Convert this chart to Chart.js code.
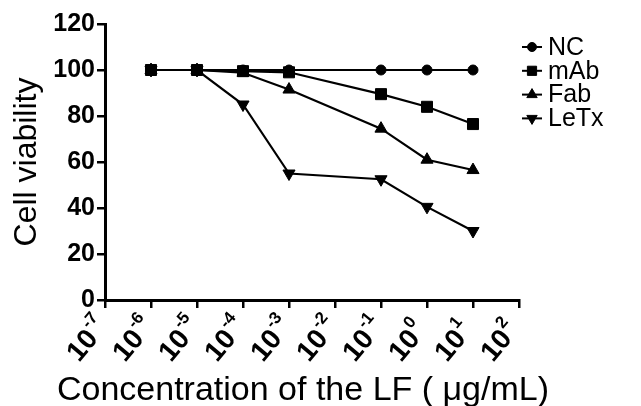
<!DOCTYPE html>
<html>
<head>
<meta charset="utf-8">
<script src="https://cdn.jsdelivr.net/npm/chart.js@4/dist/chart.umd.min.js"></script>
<style>
  html, body { margin: 0; padding: 0; background: #fff; }
  #wrap { width: 641px; height: 406px; position: relative; }
</style>
</head>
<body>
<div id="wrap"><canvas id="grafico"></canvas></div>
<script>
// concentration of LF (ug/mL)
const concentrations = [1e-6, 1e-5, 1e-4, 1e-3, 1e-1, 1e0, 1e1];
const ncValues   = [100, 100, 100, 100, 100, 100, 100];
const mAbValues  = [100, 100, 99.5, 99, 89.5, 84, 76.5];
const fabValues  = [100, 100, 98.8, 91.5, 74.5, 61, 56.5];
const letxValues = [100, 100, 85, 55, 52.5, 40.5, 30];

const seriesNames = ['NC', 'mAb', 'Fab', 'LeTx'];
const xTickValues = [1e-7, 1e-6, 1e-5, 1e-4, 1e-3, 1e-2, 1e-1, 1e0, 1e1, 1e2];
const xTickExponents = ['-7', '-6', '-5', '-4', '-3', '-2', '-1', '0', '1', '2'];
const yTickValues = [0, 20, 40, 60, 80, 100, 120];
const xTitle = 'Concentration of the LF ( \u03bcg/mL)';

const FONT = '"Liberation Sans", Arial, Helvetica, sans-serif';

const toPoints = vals => concentrations.map((c, i) => ({ x: c, y: vals[i] }));

const estilos = [
  { pointStyle: 'circle',   radius: 5,   rotation: 0 },
  { pointStyle: 'rect',     radius: 7.8, rotation: 0 },
  { pointStyle: 'triangle', radius: 7,   rotation: 0 },
  { pointStyle: 'triangle', radius: 7,   rotation: 180 }
];
const valores = [ncValues, mAbValues, fabValues, letxValues];
const orden = [2, 0, 1, 3];

const datasets = seriesNames.map((name, i) => ({
  label: name,
  data: toPoints(valores[i]),
  borderColor: '#000',
  backgroundColor: '#000',
  borderWidth: 2.2,
  pointStyle: estilos[i].pointStyle,
  pointRadius: estilos[i].radius,
  pointRotation: estilos[i].rotation,
  pointBorderWidth: 1,
  tension: 0,
  order: orden[i]
}));

// tick labels like 10^n drawn with a raised exponent, plus the x title
// (the built-in title gets squeezed to the axis width)
const xLabelsPlugin = {
  id: 'xLabels',
  afterDraw(chart) {
    const c = chart.ctx;
    const xs = chart.scales.x;
    c.save();
    c.fillStyle = '#000';
    xTickValues.forEach((v, i) => {
      const px = xs.getPixelForValue(v);
      c.save();
      c.translate(px - 22, 346);
      c.rotate(-50 * Math.PI / 180);
      c.font = 'bold 28px ' + FONT;
      c.textAlign = 'center';
      c.textBaseline = 'middle';
      c.fillText('10', 0, 0);
      const w = c.measureText('10').width;
      c.font = 'bold 17px ' + FONT;
      c.textAlign = 'left';
      c.fillText(xTickExponents[i], w / 2 + 1, -11);
      c.restore();
    });
    c.font = '34px ' + FONT;
    c.textAlign = 'center';
    c.textBaseline = 'alphabetic';
    c.fillText(xTitle, 303, 400);
    c.restore();
  }
};

// legend on the right: line + marker + name
const legendPlugin = {
  id: 'legendaLineas',
  afterDraw(chart) {
    const c = chart.ctx;
    const x0 = 522, x1 = 542, yTop = 47, paso = 23.8;
    const radios = [4.5, 6.5, 6, 6];
    c.save();
    seriesNames.forEach((name, i) => {
      const y = yTop + i * paso;
      c.strokeStyle = '#000';
      c.lineWidth = 2;
      c.beginPath();
      c.moveTo(x0, y);
      c.lineTo(x1, y);
      c.stroke();
      c.fillStyle = '#000';
      c.lineWidth = 1;
      Chart.helpers.drawPoint(c, {
        pointStyle: estilos[i].pointStyle,
        rotation: estilos[i].rotation,
        radius: radios[i],
        borderWidth: 1
      }, (x0 + x1) / 2, y);
      c.font = '25px ' + FONT;
      c.textAlign = 'left';
      c.textBaseline = 'middle';
      c.fillText(name, 548, y + 1);
    });
    c.restore();
  }
};

const ctx = document.getElementById('grafico').getContext('2d');
new Chart(ctx, {
  type: 'line',
  data: { datasets },
  plugins: [xLabelsPlugin, legendPlugin],
  options: {
    responsive: true,
    maintainAspectRatio: false,
    animation: false,
    layout: { padding: { top: 24, right: 122, left: 0, bottom: 0 } },
    plugins: {
      legend: { display: false },
      tooltip: { enabled: false }
    },
    scales: {
      x: {
        type: 'logarithmic',
        min: 1e-7,
        max: 1e2,
        afterBuildTicks: s => { s.ticks = xTickValues.map(v => ({ value: v })); },
        afterFit: s => { s.height = 106; },
        ticks: { autoSkip: false, maxRotation: 0, callback: () => '' },
        grid: { drawOnChartArea: false, color: '#000', lineWidth: 2.5, tickLength: 8 },
        border: { display: true, color: '#000', width: 3 },
        title: { display: false }
      },
      y: {
        min: 0,
        max: 120,
        afterBuildTicks: s => { s.ticks = yTickValues.map(v => ({ value: v })); },
        afterFit: s => { s.width = 105; },
        ticks: { color: '#000', padding: 2, font: { family: FONT, size: 25, weight: 'bold' } },
        grid: { drawOnChartArea: false, color: '#000', lineWidth: 2.5, tickLength: 8 },
        border: { display: true, color: '#000', width: 3 },
        title: {
          display: true,
          text: 'Cell viability',
          color: '#000',
          font: { family: FONT, size: 32 },
          padding: { top: 8, bottom: 0 }
        }
      }
    }
  }
});
</script>
</body>
</html>
